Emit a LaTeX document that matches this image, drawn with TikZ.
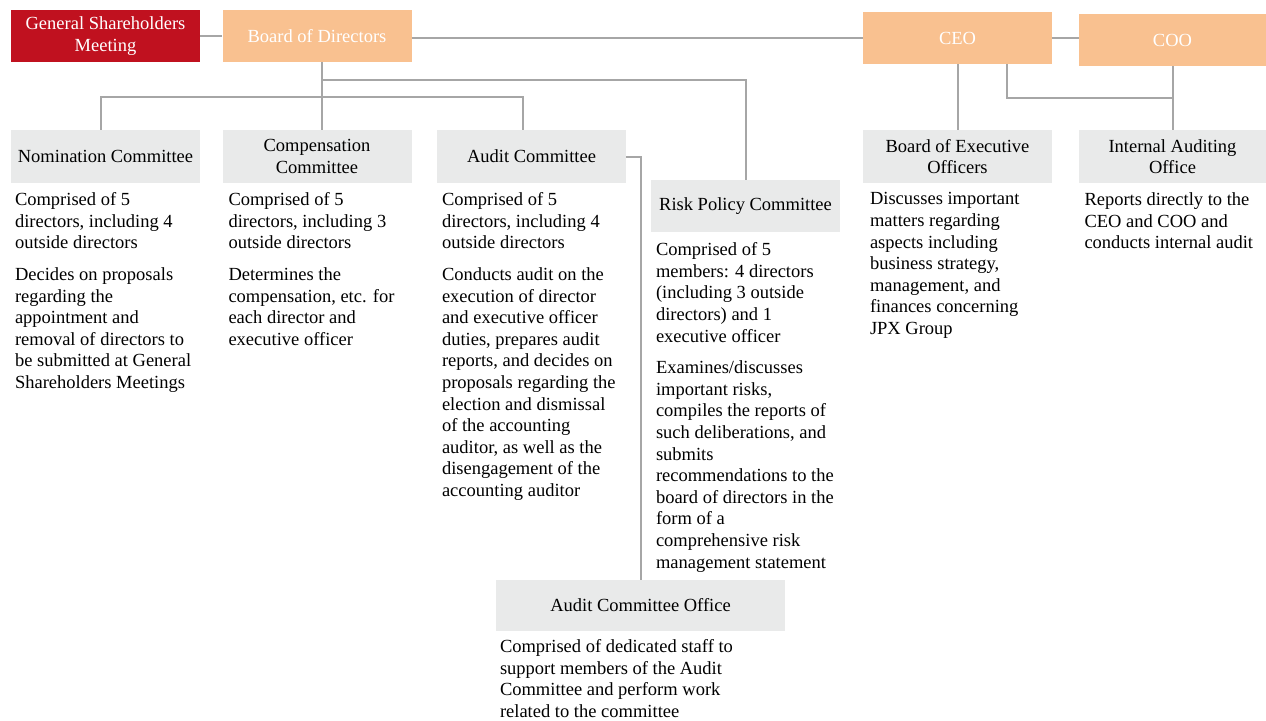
\documentclass[tikz,border=0pt]{standalone}
\usepackage{fontspec}
\setmainfont{Liberation Serif}
\usepackage{tikz}
\usetikzlibrary{positioning}

\definecolor{jpxred}{RGB}{192,17,31}
\definecolor{peach}{RGB}{249,193,144}
\definecolor{boxgray}{RGB}{233,234,234}
\definecolor{linegray}{RGB}{166,166,166}
\newcommand{\orgfont}{\fontsize{18.5pt}{21.6pt}\selectfont}

\begin{document}
\begin{tikzpicture}[x=1pt,y=-1pt,semithick]
\tikzstyle{hdr} = [rectangle,fill=peach,text=white,minimum width=189pt,minimum height=52pt,inner sep=0pt,align=center,font=\orgfont]
\tikzstyle{unit} = [rectangle,fill=boxgray,minimum width=189pt,minimum height=53pt,inner sep=0pt,align=center,font=\orgfont]
\tikzset{desc/.style={inner sep=0pt,align=left,font=\orgfont}}
\tikzset{link/.style={draw=linegray,line width=2pt}}
    \useasboundingbox (0,0) rectangle (1266,720);

    \node[hdr,fill=jpxred] (gsm) at (105.5,36) {General Shareholders\\Meeting};
    \node[hdr] (bod) at (317,36) {Board of Directors};
    \node[hdr] (ceo) at (957.5,38) {CEO};
    \node[hdr,minimum width=187pt] (coo) at (1172.5,40) {COO};

    \node[unit] (nom) at (105.5,156.5) {Nomination Committee};
    \node[unit] (comp) at (317,156.5) {Compensation\\Committee};
    \node[unit] (aud) at (531.5,156.5) {Audit Committee};
    \node[unit,minimum height=52pt] (risk) at (745.5,206) {Risk Policy Committee};
    \node[unit] (boe) at (957.5,156.5) {Board of Executive\\Officers};
    \node[unit,minimum width=188pt] (iao) at (1172.5,156.5) {Internal Auditing\\Office};
    \node[unit,minimum width=289pt,minimum height=51pt] (aco) at (640.5,605.5) {Audit Committee Office};

    \node[desc] (nomtxt) [below right=9pt and 4pt of nom.south west]
      {Comprised of 5\\directors, including 4\\outside directors\\[10pt]
       Decides on proposals\\regarding the\\appointment and\\removal of directors to\\be submitted at General\\Shareholders Meetings};
    \node[desc] (comptxt) [below right=9pt and 6pt of comp.south west]
      {Comprised of 5\\directors, including 3\\outside directors\\[10pt]
       Determines the\\compensation, etc. for\\each director and\\executive officer};
    \node[desc] (audtxt) [below right=9pt and 5pt of aud.south west]
      {Comprised of 5\\directors, including 4\\outside directors\\[10pt]
       Conducts audit on the\\execution of director\\and executive officer\\duties, prepares audit\\reports, and decides on\\proposals regarding the\\election and dismissal\\of the accounting\\auditor, as well as the\\disengagement of the\\accounting auditor};
    \node[desc] (risktxt) [below right=10pt and 5pt of risk.south west]
      {Comprised of 5\\members: 4 directors\\(including 3 outside\\directors) and 1\\executive officer\\[10pt]
       Examines/discusses\\important risks,\\compiles the reports of\\such deliberations, and\\submits\\recommendations to the\\board of directors in the\\form of a\\comprehensive risk\\management statement};
    \node[desc] (boetxt) [below right=9pt and 7pt of boe.south west]
      {Discusses important\\matters regarding\\aspects including\\business strategy,\\management, and\\finances concerning\\JPX Group};
    \node[desc] (iaotxt) [below right=9pt and 6pt of iao.south west]
      {Reports directly to the\\CEO and COO and\\conducts internal audit};
    \node[desc] (acotxt) [below right=8pt and 4pt of aco.south west]
      {Comprised of dedicated staff to\\support members of the Audit\\Committee and perform work\\related to the committee};

    \draw[link] (gsm.east) -- (bod.west);
    \draw[link] (bod.east |- ceo.west) -- (ceo.west);
    \draw[link] (ceo.east) -- (ceo.east -| coo.west);
    \draw[link] ([xshift=5pt]bod.south) -- ([xshift=5pt]comp.north);
    \draw[link] ([xshift=5pt]bod.south) ++(0,18) -| (risk.north);
    \draw[link] ([xshift=-4.5pt]nom.north) -- ++(0,-33) -| ([xshift=-8.5pt]aud.north);
    \draw[link] (aud.east) -| (aco.north);
    \draw[link] (ceo.south) -- (boe.north);
    \draw[link] (coo.south) -- (iao.north);
    \draw[link] ([xshift=49.5pt]ceo.south) -- ++(0,34) -| (iao.north);
\end{tikzpicture}
\end{document}
